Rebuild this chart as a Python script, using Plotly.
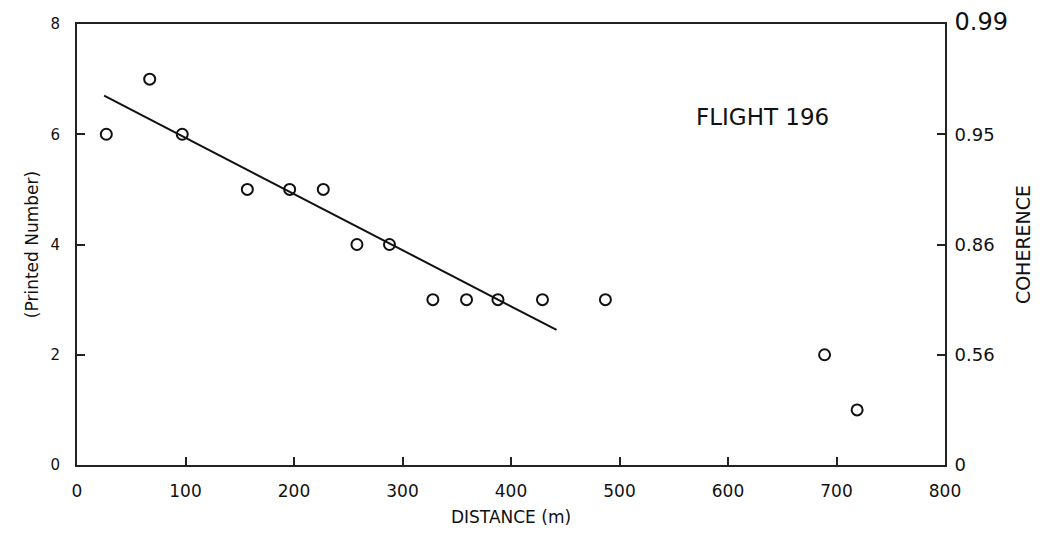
import plotly.graph_objects as go

# Data
distance = [27, 67, 97, 157, 196, 227, 258, 288, 328, 359, 388, 429, 487, 689, 719]
printed_number = [6, 7, 6, 5, 5, 5, 4, 4, 3, 3, 3, 3, 3, 2, 1]
fit_x = [25, 442]
fit_y = [6.7, 2.45]
left_ticks = [0, 2, 4, 6, 8]
right_ticktext = ["0", "0.56", "0.86", "0.95", "<span style='font-size:24px'>0.99</span>"]
x_ticks = [0, 100, 200, 300, 400, 500, 600, 700, 800]

FONT = "DejaVu Sans"

fig = go.Figure()
fig.add_trace(go.Scatter(x=fit_x, y=fit_y, mode="lines",
                         line=dict(color="#111", width=2), showlegend=False))
fig.add_trace(go.Scatter(x=distance, y=printed_number, mode="markers",
                         marker=dict(symbol="circle-open", size=11, color="#111",
                                     line=dict(width=2, color="#111")),
                         showlegend=False))
# invisible trace to anchor the right axis
fig.add_trace(go.Scatter(x=[0], y=[0], yaxis="y2", mode="markers",
                         marker=dict(opacity=0), showlegend=False, hoverinfo="skip"))

fig.update_layout(
    width=1044, height=537,
    margin=dict(l=77, r=99, t=24, b=72),
    paper_bgcolor="white", plot_bgcolor="white",
    font=dict(family=FONT, color="#111"),
    xaxis=dict(range=[0, 800], tickvals=x_ticks, ticks="inside", ticklen=8,
               tickwidth=1.5, tickcolor="#222", showline=True, linecolor="#222",
               linewidth=2, mirror=True, showgrid=False, zeroline=False,
               automargin=False,
               tickfont=dict(size=17, family=FONT), ticklabelstandoff=10,
               title=dict(text="DISTANCE (m)", font=dict(size=17, family=FONT),
                          standoff=11)),
    yaxis=dict(range=[0, 8], tickvals=left_ticks, ticks="inside", ticklen=8,
               tickwidth=1.5, tickcolor="#222", showline=True, linecolor="#222",
               linewidth=2, showgrid=False, zeroline=False, automargin=False,
               tickfont=dict(size=15, family=FONT), ticklabelstandoff=12,
               title=dict(text="(Printed Number)", font=dict(size=17, family=FONT),
                          standoff=8)),
    yaxis2=dict(range=[0, 8], overlaying="y", side="right", tickvals=left_ticks,
                ticktext=right_ticktext, ticks="inside", ticklen=8, tickwidth=1.5,
                tickcolor="#222", showline=True, linecolor="#222", linewidth=2,
                showgrid=False, zeroline=False, automargin=False,
                tickfont=dict(size=18, family=FONT), ticklabelstandoff=4,
                title=dict(text="COHERENCE", font=dict(size=19, family=FONT),
                           standoff=10)),
    annotations=[dict(x=0.79, y=0.79, xref="paper", yref="paper",
                      xanchor="center", yanchor="middle",
                      text="FLIGHT 196", showarrow=False,
                      font=dict(size=23, family=FONT, color="#111"))],
)

fig.write_html("out.html")
